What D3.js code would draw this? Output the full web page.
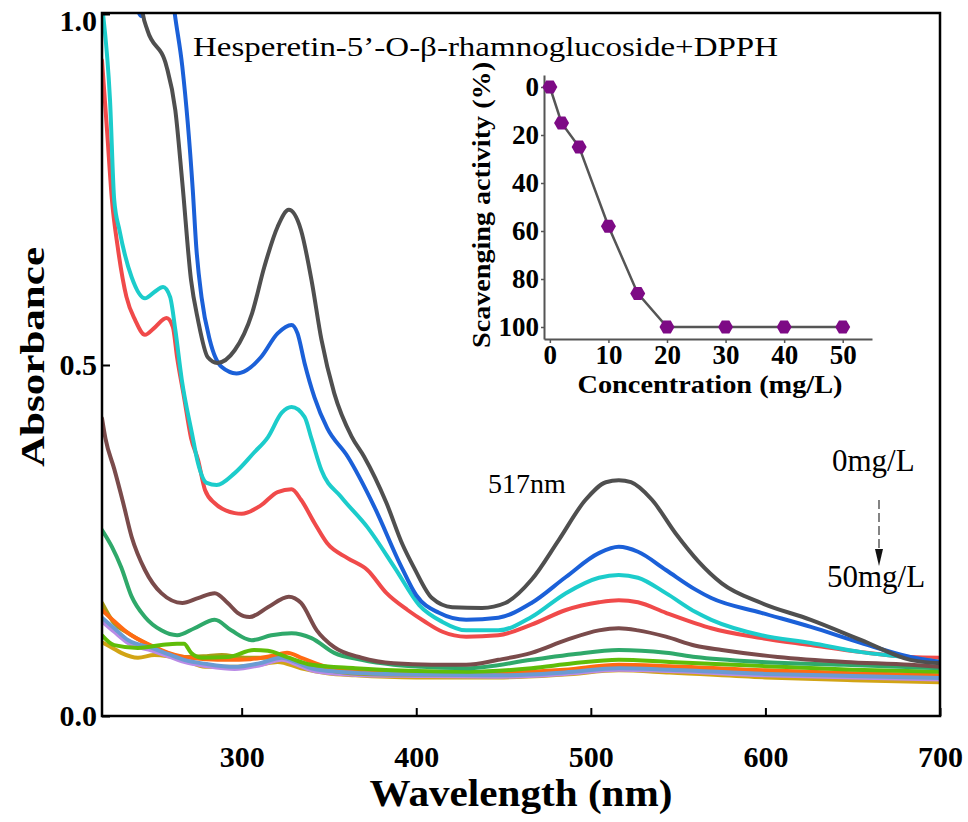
<!DOCTYPE html>
<html>
<head>
<meta charset="utf-8">
<script src="https://cdn.jsdelivr.net/npm/d3@7"></script>
<style>
  body { margin: 0; background: #fff; }
  text { font-family: "Liberation Serif", "Times New Roman", serif; }
</style>
</head>
<body>
<div id="chart"></div>
<script>
// UV-vis spectra, [wavelength nm, absorbance]
var specGrey = [[241,1.05],[243.4,1.0],[246,0.977],[257,0.925],[262,0.863],[266,0.76],[271,0.621],[275,0.564],[280.6,0.511],[286,0.503],[296,0.521],[306,0.574],[313,0.64],[320.6,0.697],[327,0.721],[334,0.692],[340,0.621],[345.7,0.536],[353,0.46],[363,0.398],[370,0.37],[383,0.303],[392,0.245],[399,0.21],[409,0.168],[420.6,0.155],[437.7,0.154],[451,0.161],[466,0.194],[481.7,0.251],[497,0.308],[508.6,0.333],[516,0.336],[523,0.333],[535,0.308],[548.6,0.26],[561.7,0.22],[575,0.189],[597.7,0.161],[626,0.137],[655,0.108],[683,0.08],[700,0.075]];
var specBlue = [[236,1.06],[242.5,0.997],[248,1.06],[256,1.12],[261.7,1.0],[266,0.925],[272,0.749],[274,0.668],[277,0.597],[281.7,0.536],[288.6,0.497],[297,0.488],[303,0.493],[311,0.511],[320.6,0.545],[328.6,0.557],[332,0.545],[336,0.503],[341.7,0.454],[349,0.41],[360.6,0.37],[376,0.298],[391,0.215],[400,0.172],[413,0.147],[428.6,0.137],[447,0.14],[466,0.161],[485.7,0.198],[504.6,0.232],[516,0.241],[527,0.234],[543,0.208],[560,0.18],[569,0.168],[597.7,0.147],[626,0.127],[655,0.104],[683,0.084],[700,0.077]];
var specCyan = [[219,1.03],[220.6,1.0],[224.6,0.877],[227,0.735],[230,0.692],[237,0.625],[244.6,0.595],[250,0.604],[255,0.611],[259,0.597],[262,0.55],[265.7,0.479],[271.5,0.403],[275,0.36],[280,0.332],[285.7,0.329],[296,0.346],[307,0.375],[315,0.397],[323,0.432],[328.6,0.44],[336,0.426],[340,0.395],[345.7,0.35],[357,0.312],[372,0.269],[388,0.21],[401.7,0.158],[415,0.134],[428.6,0.122],[447,0.122],[466,0.141],[485.7,0.175],[504.6,0.197],[516,0.201],[527,0.197],[543,0.175],[560,0.148],[569,0.137],[597.7,0.115],[626,0.104],[655,0.091],[683,0.083],[700,0.077]];
var specRed = [[220,0.934],[223,0.83],[225.7,0.735],[229,0.668],[234,0.597],[239,0.564],[244.6,0.543],[250,0.553],[257,0.567],[260.6,0.554],[263,0.511],[267,0.454],[271,0.396],[275,0.365],[279,0.322],[284.6,0.303],[296,0.289],[300,0.288],[311,0.3],[320.6,0.319],[328.6,0.323],[334,0.308],[341.7,0.275],[349,0.246],[360.6,0.225],[372,0.208],[383,0.175],[395,0.151],[404.6,0.135],[415,0.12],[428.6,0.113],[447,0.115],[466,0.13],[485.7,0.151],[504.6,0.162],[516,0.165],[527,0.162],[543,0.147],[560,0.132],[569,0.125],[597.7,0.111],[626,0.101],[655,0.091],[683,0.084],[700,0.083]];
var specBrown = [[220,0.424],[222,0.395],[227,0.352],[232,0.305],[237,0.255],[244.6,0.208],[254,0.175],[266,0.161],[275,0.168],[284.6,0.175],[292,0.161],[297.7,0.147],[304.6,0.141],[315,0.155],[327,0.17],[334,0.161],[343,0.122],[353,0.098],[368.6,0.083],[387,0.075],[409,0.073],[428.6,0.073],[447,0.08],[466,0.09],[485.7,0.108],[504.6,0.122],[516,0.125],[527,0.122],[543,0.113],[560,0.1],[575,0.094],[607,0.084],[645.7,0.077],[683,0.073],[700,0.07]];
var specGreen = [[220,0.265],[225.7,0.241],[231,0.212],[237,0.17],[244.6,0.141],[254,0.122],[263,0.115],[273,0.125],[284.6,0.137],[294,0.122],[305.7,0.108],[317,0.115],[328.6,0.118],[340,0.111],[353,0.09],[368.6,0.08],[387,0.073],[403,0.07],[428.6,0.068],[466,0.08],[490,0.088],[516,0.094],[543,0.09],[560,0.084],[597.7,0.077],[645,0.073],[700,0.068]];
var specLime = [[220,0.115],[227,0.101],[240.6,0.097],[254,0.101],[263,0.103],[267,0.103],[271,0.09],[277,0.083],[292,0.084],[307,0.094],[315,0.093],[326,0.084],[340,0.073],[365,0.068],[400,0.064],[430,0.063],[466,0.068],[490,0.075],[516,0.08],[545,0.077],[600,0.071],[650,0.066],[700,0.063]];
var specOlive = [[220,0.161],[227,0.132],[235,0.118],[244.6,0.104],[255,0.092],[267,0.084],[278,0.085],[288.6,0.087],[301.7,0.083],[312,0.083],[323,0.084],[332,0.077],[340,0.07],[355,0.063],[370,0.06],[400,0.059],[450,0.059],[485,0.063],[516,0.07],[545,0.068],[600,0.062],[650,0.059],[700,0.056]];
var specOrange = [[220,0.151],[227,0.135],[235,0.118],[248.6,0.1],[258,0.09],[267,0.084],[280,0.081],[292,0.08],[305,0.081],[318,0.086],[326,0.09],[335,0.082],[349,0.07],[365,0.066],[400,0.062],[450,0.062],[485,0.066],[516,0.073],[545,0.071],[600,0.065],[650,0.061],[700,0.058]];
var specSteel = [[220,0.14],[227,0.125],[235,0.108],[248.6,0.097],[258,0.088],[267,0.08],[280,0.074],[296,0.07],[310,0.075],[323,0.083],[332,0.076],[340,0.068],[355,0.063],[370,0.061],[400,0.059],[450,0.058],[485,0.062],[516,0.068],[545,0.066],[600,0.06],[650,0.057],[700,0.054]];
var specLavender = [[220,0.135],[227,0.12],[235,0.104],[248.6,0.093],[258,0.085],[267,0.077],[280,0.071],[296,0.067],[310,0.072],[323,0.08],[332,0.073],[340,0.065],[355,0.06],[370,0.058],[400,0.057],[450,0.056],[485,0.06],[516,0.066],[545,0.064],[600,0.058],[650,0.055],[700,0.052]];
var specMustard = [[220,0.105],[226,0.097],[231,0.09],[240.6,0.083],[250,0.087],[258,0.085],[267,0.08],[279,0.07],[295,0.07],[310,0.073],[320.6,0.077],[334,0.068],[349,0.061],[365,0.058],[400,0.055],[450,0.055],[485,0.059],[516,0.065],[545,0.062],[600,0.055],[650,0.051],[700,0.048]];

// drawn bottom first
var spectra = [specMustard, specLavender, specOlive, specOrange, specSteel, specLime, specGreen, specBrown, specRed, specCyan, specBlue, specGrey];
var spectraColors = ["#d2a415", "#b98be6", "#a99b16", "#ff6a12", "#6b9bd3", "#5fbd08", "#2fa96a", "#7a4b4b", "#f04a4a", "#1ccccb", "#1b60d8", "#4f4f4f"];

var xTicks = [300, 400, 500, 600, 700];
var yTicks = [0, 0.5, 1.0];

// inset: scavenging activity
var conc = [0, 2, 5, 10, 15, 20, 30, 40, 50];
var scav = [0, 15, 25, 58, 86, 100, 100, 100, 100];
var concTicks = [0, 10, 20, 30, 40, 50];
var scavTicks = [0, 20, 40, 60, 80, 100];

var W = 968, H = 822;
var svg = d3.select("#chart").append("svg").attr("width", W).attr("height", H);

var x = d3.scaleLinear().domain([220, 700]).range([102, 940]);
var y = d3.scaleLinear().domain([0, 1]).range([716, 14]);

svg.append("clipPath").attr("id", "plotclip")
  .append("rect").attr("x", 102).attr("y", 13).attr("width", 838).attr("height", 703);

var line = d3.line()
  .x(d => x(d[0]))
  .y(d => y(d[1]))
  .curve(d3.curveMonotoneX);

svg.append("g").attr("clip-path", "url(#plotclip)")
  .selectAll("path")
  .data(spectra)
  .join("path")
  .attr("d", line)
  .attr("fill", "none")
  .attr("stroke", (d, i) => spectraColors[i])
  .attr("stroke-width", 4)
  .attr("stroke-linejoin", "round")
  .attr("stroke-linecap", "round");

// axes
var xAxis = svg.append("g").attr("transform", "translate(0,716)")
  .call(d3.axisBottom(x).tickValues(xTicks).tickSizeInner(-8).tickSizeOuter(0).tickPadding(30).tickFormat(d3.format("d")));
var yAxis = svg.append("g").attr("transform", "translate(102,0)")
  .call(d3.axisLeft(y).tickValues(yTicks).tickSizeInner(-8).tickSizeOuter(0).tickPadding(5).tickFormat(d3.format(".1f")));
[xAxis, yAxis].forEach(function (a) {
  a.select(".domain").remove();
  a.selectAll("line").attr("stroke", "#000").attr("stroke-width", 2);
  a.selectAll("text")
    .attr("font-family", "Liberation Serif, Times New Roman, serif")
    .attr("font-weight", "bold")
    .attr("font-size", 30)
    .attr("fill", "#000");
});
// keep the top label inside the page
yAxis.selectAll("text").filter(d => d == 1).attr("dy", "0.55em");

svg.append("rect")
  .attr("x", 102).attr("y", 13).attr("width", 838).attr("height", 703)
  .attr("fill", "none").attr("stroke", "#000").attr("stroke-width", 2.5);

svg.append("text")
  .attr("transform", "translate(44,357) rotate(-90)")
  .attr("text-anchor", "middle")
  .attr("font-weight", "bold").attr("font-size", 34)
  .attr("textLength", 220).attr("lengthAdjust", "spacingAndGlyphs")
  .text("Absorbance");

svg.append("text")
  .attr("x", 521).attr("y", 806)
  .attr("text-anchor", "middle")
  .attr("font-weight", "bold").attr("font-size", 38)
  .attr("textLength", 303).attr("lengthAdjust", "spacingAndGlyphs")
  .text("Wavelength (nm)");

svg.append("text")
  .attr("x", 193).attr("y", 56)
  .attr("font-size", 28)
  .attr("textLength", 585).attr("lengthAdjust", "spacingAndGlyphs")
  .text("Hesperetin-5’-O-β-rhamnoglucoside+DPPH");

svg.append("text").attr("x", 488).attr("y", 493).attr("font-size", 28).text("517nm");
svg.append("text").attr("x", 832).attr("y", 471).attr("font-size", 31).text("0mg/L");
svg.append("text").attr("x", 827).attr("y", 587).attr("font-size", 31).text("50mg/L");

svg.append("line")
  .attr("x1", 879).attr("y1", 500).attr("x2", 879).attr("y2", 550)
  .attr("stroke", "#333").attr("stroke-width", 1.2).attr("stroke-dasharray", "9,4");
svg.append("path")
  .attr("d", "M875,549 L883,549 L879,566 Z")
  .attr("fill", "#111");

// inset
var ix = d3.scaleLinear().domain([-1, 55]).range([544, 872]);
var iy = d3.scaleLinear().domain([-5, 105]).range([75, 339]);

var inset = svg.append("g");
var ixAxis = inset.append("g").attr("transform", "translate(0,339)")
  .call(d3.axisBottom(ix).tickValues(concTicks).tickSizeInner(4).tickSizeOuter(0).tickPadding(2));
var iyAxis = inset.append("g").attr("transform", "translate(544,0)")
  .call(d3.axisLeft(iy).tickValues(scavTicks).tickSizeInner(3).tickSizeOuter(0).tickPadding(2));
[ixAxis, iyAxis].forEach(function (a) {
  a.select(".domain").attr("stroke", "#555").attr("stroke-width", 2);
  a.selectAll("line").attr("stroke", "#555").attr("stroke-width", 1.5);
  a.selectAll("text")
    .attr("font-family", "Liberation Serif, Times New Roman, serif")
    .attr("font-weight", "bold")
    .attr("font-size", 27)
    .attr("fill", "#000");
});

var ipts = conc.map((c, i) => [c, scav[i]]);
inset.append("path")
  .datum(ipts)
  .attr("d", d3.line().x(d => ix(d[0])).y(d => iy(d[1])))
  .attr("fill", "none").attr("stroke", "#555").attr("stroke-width", 2.5);

function hexagon(cx, cy, r) {
  var p = d3.path();
  for (var k = 0; k < 6; k++) {
    var a = Math.PI / 3 * k;
    if (k == 0) p.moveTo(cx + r * Math.cos(a), cy + r * Math.sin(a));
    else p.lineTo(cx + r * Math.cos(a), cy + r * Math.sin(a));
  }
  p.closePath();
  return p.toString();
}
inset.selectAll("path.mk")
  .data(ipts)
  .join("path")
  .attr("class", "mk")
  .attr("d", d => hexagon(ix(d[0]), iy(d[1]), 7.5))
  .attr("fill", "#7d0a85");

inset.append("text")
  .attr("x", 710).attr("y", 393)
  .attr("text-anchor", "middle")
  .attr("font-weight", "bold").attr("font-size", 26)
  .attr("textLength", 265).attr("lengthAdjust", "spacingAndGlyphs")
  .text("Concentration (mg/L)");
inset.append("text")
  .attr("transform", "translate(490,205) rotate(-90)")
  .attr("text-anchor", "middle")
  .attr("font-weight", "bold").attr("font-size", 25)
  .attr("textLength", 286).attr("lengthAdjust", "spacingAndGlyphs")
  .text("Scavenging activity (%)");
</script>
</body>
</html>
